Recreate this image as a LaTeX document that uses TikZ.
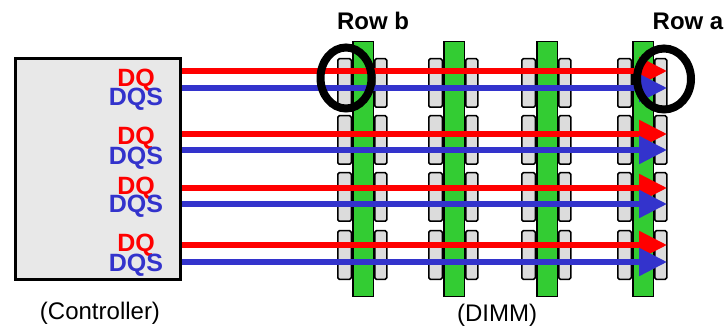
\documentclass[tikz,border=0pt]{standalone}
\usepackage{fontspec}
\setmainfont{Liberation Sans}
\usetikzlibrary{arrows.meta, positioning, shapes.geometric}

\definecolor{dqred}{RGB}{255,0,0}
\definecolor{dqsblue}{RGB}{51,51,204}
\definecolor{dimmgreen}{RGB}{51,204,51}
\definecolor{chipgray}{RGB}{220,220,220}
\definecolor{ctrlgray}{RGB}{232,232,232}

\begin{document}
\begin{tikzpicture}[
	x = 1pt, y = -1pt,
	> = {Triangle[length=28pt,width=27pt]},
	chip/.style = {draw, line width=1.5pt, fill=chipgray, rounded corners=1.5pt},
	bar/.style = {draw, line width=1.5pt, fill=dimmgreen, inner sep=0pt, minimum width=20.5pt, minimum height=254.5pt},
	dq/.style = {dqred, line width=5.5pt},
	dqs/.style = {dqsblue, line width=5.5pt},
	sig/.style = {anchor=base, inner sep=0pt, font=\bfseries\fontsize{25}{25}\selectfont},
	ring/.style = {draw, ellipse, line width=8pt, inner sep=0pt, minimum height=61pt},
	rowtag/.style = {font=\bfseries\fontsize{24}{24}\selectfont},
	caption/.style = {font=\fontsize{24}{24}\selectfont}
	]
	\useasboundingbox (0,0) rectangle (727,328);
	% controller
	\node[draw, line width=3pt, fill=ctrlgray, inner sep=0pt,
		minimum width=165pt, minimum height=221pt] (ctrl) at (98,169) {};
	% DIMMs
	\foreach \c [count=\i] in {363,454,547,643} {
		\foreach \t/\b in {58/108,115/165,172/222,230/280} {
			\draw[chip] (\c-25.25,\t+0.75) rectangle (\c-11.75,\b-0.75);
			\draw[chip] (\c+11.75,\t+0.75) rectangle (\c+23.75,\b-0.75);
		}
		\node[bar] (dimm\i) at (\c,169) {};
	}
	% signals
	\foreach \r/\b/\q/\s [count=\i] in {71/88/87/106, 134/150/145/165, 188/204/195/213, 245/262/252/272} {
		\node[sig, text=dqred] (dq\i) at (136,\q) {DQ};
		\node[sig, text=dqsblue] (dqs\i) at (136,\s) {DQS};
		\coordinate (dqend\i) at (667,\r);
		\coordinate (dqsend\i) at (667,\b);
		\draw[dq,->] (ctrl.east |- dqend\i) -- (dqend\i);
		\draw[dqs,->] (ctrl.east |- dqsend\i) -- (dqsend\i);
	}
	% rows
	\node[ring, minimum width=51pt] (ringb) at (346,78) {};
	\node[ring, minimum width=54pt] (ringa) at (664,79) {};
	\node[rowtag] (rowb) at (373,21) {Row b};
	\node[rowtag] (rowa) at (688,21) {Row a};
	% captions
	\node[caption] (ctrlcap) at (100,313) {(Controller)};
	\node[caption] (dimmcap) at (497,315) {(DIMM)};
\end{tikzpicture}
\end{document}
